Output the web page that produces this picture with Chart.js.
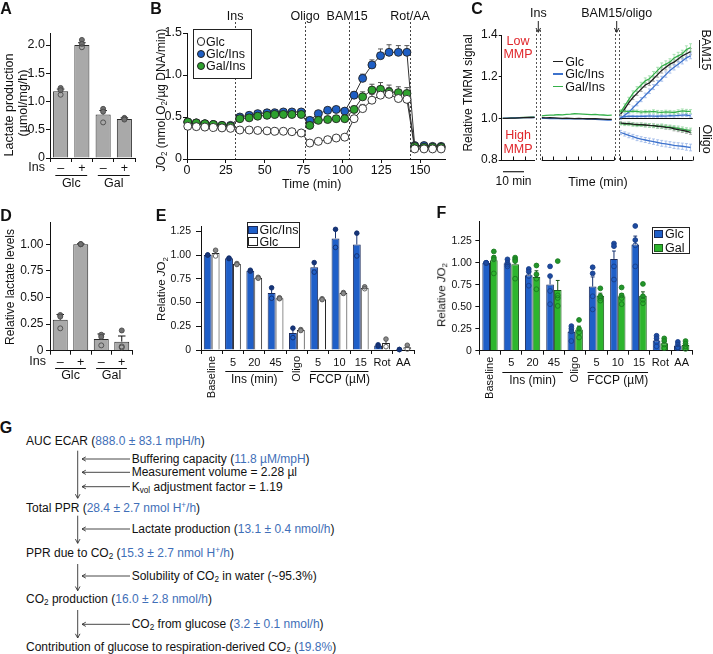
<!DOCTYPE html>
<html lang="en"><head><meta charset="utf-8"><title>Figure</title>
<script src="https://cdn.jsdelivr.net/npm/chart.js@4/dist/chart.umd.min.js"></script>
<style>
html,body{margin:0;padding:0;background:#fff}
body{width:713px;height:654px;position:relative;overflow:hidden;font-family:'Liberation Sans',Arial,Helvetica,sans-serif;color:#111}
canvas{position:absolute}
.t{position:absolute;white-space:nowrap;line-height:1}
.t sub{font-size:0.68em;vertical-align:-0.3em;line-height:0}
.t sup{font-size:0.68em;vertical-align:0.45em;line-height:0}
.b{color:#3f6fb8}
.box{position:absolute;border:1px solid #222;background:#fff;box-sizing:border-box}
.sw{position:absolute;box-sizing:border-box}
</style></head>
<body>
<canvas id="cA" width="145" height="200" style="left:0px;top:0px"></canvas>
<canvas id="cB" width="300" height="200" style="left:150px;top:0px"></canvas>
<canvas id="cC" width="248" height="200" style="left:465px;top:0px"></canvas>
<canvas id="cD" width="145" height="190" style="left:0px;top:200px"></canvas>
<canvas id="cE" width="275" height="200" style="left:150px;top:200px"></canvas>
<canvas id="cF" width="273" height="200" style="left:440px;top:200px"></canvas>
<div id="txt"></div>
<svg id="ov" width="713" height="654" style="position:absolute;left:0;top:0;pointer-events:none">
<g stroke="#333" stroke-width="0.9" fill="none">
 <path d="M77.7 450.7V498 M75.4 494.2L77.7 498.4L80 494.2"/>
 <path d="M82 459H130 M85.8 456.9L82 459L85.8 461.1"/>
 <path d="M82 472.3H130 M85.8 470.2L82 472.3L85.8 474.4"/>
 <path d="M82 486.7H130 M85.8 484.6L82 486.7L85.8 488.8"/>
 <path d="M77.7 515.7V543.3 M75.4 539.1L77.7 543.3L80 539.1"/>
 <path d="M82 529H130 M85.8 526.9L82 529L85.8 531.1"/>
 <path d="M77.7 564V590.7 M75.4 586.5L77.7 590.7L80 586.5"/>
 <path d="M82 576H130 M85.8 573.9L82 576L85.8 578.1"/>
 <path d="M77.7 610V638 M75.4 633.8L77.7 638L80 633.8"/>
 <path d="M82 624.3H130 M85.8 622.2L82 624.3L85.8 626.4"/>
</g>
<g stroke="#222" stroke-width="1" fill="none">
 <path d="M538.3 21V32 M536 28L538.3 32.3L540.6 28"/>
 <path d="M616.7 21V32 M614.4 28L616.7 32.3L619 28"/>
 <path d="M699.5 40V68 M699.5 127V152"/>
 <path d="M503 171.7H524" stroke-width="1.2"/>
</g>
</svg>
<script>
// ================= DATA =================
// Panel A: lactate production (µmol/mg/h)
const aCats = ['–', '+', '–', '+'];
const aLactate = [1.18, 2.00, 0.77, 0.69];
const aErr = [0.04, 0.04, 0.07, 0.02];
const aReps = [[1.24, 1.20, 1.12], [2.09, 2.02, 1.96], [0.87, 0.82, 0.63], [0.71, 0.70, 0.68]];
const aYTicks = {min: 0, max: 2.2, step: 0.5};

// Panel B: JO2 time course
const bTime = [0.5, 6, 11.5, 17, 22.5, 28, 34, 40, 45.5, 51.5, 56.5, 62, 67.5, 73.5, 79, 84.5, 90.5, 96, 101.5,
  107.5, 113, 119, 124.5, 130, 136, 141.5, 146.5, 152.5, 158, 163.5];
const bGlc = [0.39, 0.385, 0.38, 0.375, 0.37, 0.365, 0.345, 0.345, 0.34, 0.335, 0.33, 0.33, 0.325, 0.31,
  0.19, 0.21, 0.23, 0.25, 0.26, 0.48, 0.60, 0.70, 0.76, 0.77, 0.72, 0.71, 0.12, 0.12, 0.12, 0.12];
const bGlcIns = [0.44, 0.43, 0.42, 0.41, 0.40, 0.40, 0.50, 0.52, 0.54, 0.55, 0.55, 0.56, 0.56, 0.56,
  0.46, 0.54, 0.58, 0.59, 0.57, 0.76, 0.96, 1.12, 1.23, 1.27, 1.27, 1.27, 0.16, 0.16, 0.15, 0.15];
const bGalIns = [0.44, 0.43, 0.42, 0.41, 0.40, 0.39, 0.48, 0.49, 0.51, 0.52, 0.53, 0.53, 0.53, 0.53,
  0.40, 0.46, 0.47, 0.48, 0.48, 0.59, 0.74, 0.82, 0.83, 0.80, 0.79, 0.78, 0.15, 0.14, 0.14, 0.14];
const bErrGlc = [0.01, 0.01, 0.01, 0.01, 0.01, 0.01, 0.01, 0.01, 0.01, 0.01, 0.01, 0.01, 0.01, 0.01,
  0.01, 0.01, 0.01, 0.015, 0.015, 0.03, 0.05, 0.07, 0.08, 0.08, 0.08, 0.07, 0.01, 0.01, 0.01, 0.01];
const bErrGlcIns = [0.01, 0.01, 0.01, 0.01, 0.01, 0.01, 0.01, 0.01, 0.015, 0.015, 0.015, 0.015, 0.015, 0.015,
  0.02, 0.02, 0.02, 0.02, 0.02, 0.04, 0.05, 0.06, 0.08, 0.09, 0.08, 0.08, 0.01, 0.01, 0.01, 0.01];
const bErrGalIns = [0.01, 0.01, 0.01, 0.01, 0.01, 0.01, 0.01, 0.01, 0.01, 0.01, 0.01, 0.01, 0.01, 0.01,
  0.015, 0.015, 0.015, 0.015, 0.015, 0.04, 0.06, 0.07, 0.08, 0.08, 0.07, 0.07, 0.01, 0.01, 0.01, 0.01];
const bEvents = [{x: 31, label: 'Ins'}, {x: 76, label: 'Oligo'}, {x: 104.3, label: 'BAM15'}, {x: 143.5, label: 'Rot/AA'}];

// Panel C: TMRM signal (three time segments)
const cT1 = [0.5, 2.5, 4.5, 6.5, 8.5, 10.5, 12.5, 14.5, 16];
const cT2 = [19.5, 21.5, 23.5, 25.5, 27.5, 29.5, 31.5, 33.5, 35.5, 37.5, 39.5, 41.5, 43.5, 45.5, 47.5, 49.5, 51.5, 53.5];
const cT3 = [57.8, 59.8, 61.8, 63.8, 65.8, 67.8, 69.8, 71.8, 73.8, 75.8, 77.8, 79.8, 81.8, 83.8, 85.8, 87.8, 89.8, 91.8];
const cGlc1 = [1.000, 1.000, 1.001, 1.001, 1.002, 1.003, 1.004, 1.004, 1.005];
const cIns1 = [1.000, 1.001, 1.001, 1.002, 1.002, 1.003, 1.003, 1.004, 1.004];
const cGal1 = [1.000, 1.000, 1.002, 1.002, 1.003, 1.004, 1.005, 1.006, 1.006];
const cGlc2 = [1.003, 1.002, 1.003, 1.002, 1.001, 1.000, 1.001, 1.000, 0.999, 1.000, 0.999, 0.998, 0.999, 0.998, 0.997, 0.996, 0.995, 0.995];
const cIns2 = [1.000, 1.000, 0.999, 1.000, 0.999, 0.998, 0.999, 0.998, 0.997, 0.998, 0.997, 0.996, 0.996, 0.995, 0.994, 0.993, 0.992, 0.992];
const cGal2 = [1.012, 1.014, 1.015, 1.016, 1.018, 1.017, 1.019, 1.020, 1.022, 1.021, 1.020, 1.019, 1.018, 1.019, 1.017, 1.016, 1.014, 1.015];
const cBamGal = [1.03, 1.06, 1.09, 1.12, 1.14, 1.16, 1.18, 1.19, 1.21, 1.23, 1.25, 1.26, 1.27, 1.29, 1.30, 1.31, 1.33, 1.34];
const cBamGlc = [1.02, 1.045, 1.075, 1.10, 1.12, 1.14, 1.16, 1.17, 1.19, 1.21, 1.23, 1.245, 1.26, 1.27, 1.285, 1.30, 1.31, 1.32];
const cBamIns = [1.00, 1.015, 1.03, 1.05, 1.07, 1.09, 1.11, 1.13, 1.15, 1.17, 1.19, 1.21, 1.23, 1.245, 1.26, 1.275, 1.29, 1.30];
const cCtrlGal = [1.035, 1.035, 1.032, 1.034, 1.033, 1.030, 1.032, 1.031, 1.033, 1.030, 1.029, 1.031, 1.030, 1.028, 1.032, 1.036, 1.034, 1.033];
const cCtrlIns = [1.005, 1.008, 1.010, 1.010, 1.009, 1.011, 1.010, 1.012, 1.011, 1.010, 1.012, 1.011, 1.013, 1.012, 1.014, 1.015, 1.016, 1.012];
const cOliGlc = [0.978, 0.975, 0.975, 0.972, 0.970, 0.970, 0.968, 0.966, 0.965, 0.962, 0.960, 0.957, 0.955, 0.950, 0.946, 0.942, 0.938, 0.933];
const cOliGal = [0.975, 0.972, 0.973, 0.970, 0.968, 0.969, 0.967, 0.966, 0.964, 0.962, 0.963, 0.960, 0.958, 0.955, 0.952, 0.948, 0.944, 0.942];
const cOliIns = [0.932, 0.925, 0.918, 0.912, 0.905, 0.900, 0.896, 0.892, 0.888, 0.884, 0.880, 0.877, 0.874, 0.870, 0.868, 0.866, 0.863, 0.860];
const eBamGal = [0.008, 0.010, 0.011, 0.012, 0.012, 0.013, 0.014, 0.014, 0.015, 0.015, 0.016, 0.016, 0.016, 0.017, 0.017, 0.017, 0.018, 0.018];
const eBamGlc = [0.006, 0.008, 0.009, 0.010, 0.010, 0.011, 0.011, 0.012, 0.012, 0.013, 0.013, 0.013, 0.014, 0.014, 0.014, 0.015, 0.015, 0.015];
const eBamIns = [0.006, 0.007, 0.008, 0.009, 0.010, 0.010, 0.011, 0.011, 0.012, 0.012, 0.012, 0.013, 0.013, 0.013, 0.014, 0.014, 0.014, 0.014];
const eOliGlc = [0.006, 0.006, 0.007, 0.007, 0.007, 0.008, 0.008, 0.008, 0.008, 0.009, 0.009, 0.009, 0.009, 0.010, 0.010, 0.010, 0.010, 0.010];
const eOliGal = [0.007, 0.007, 0.008, 0.008, 0.008, 0.008, 0.009, 0.009, 0.009, 0.009, 0.010, 0.010, 0.010, 0.010, 0.011, 0.011, 0.011, 0.011];
const eOliIns = [0.010, 0.010, 0.011, 0.011, 0.012, 0.012, 0.012, 0.013, 0.013, 0.013, 0.014, 0.014, 0.014, 0.015, 0.015, 0.015, 0.016, 0.016];
const eCtrlGal = [0.006, 0.006, 0.006, 0.007, 0.007, 0.007, 0.007, 0.007, 0.008, 0.008, 0.008, 0.008, 0.008, 0.008, 0.009, 0.009, 0.009, 0.009];
const eCtrlIns = [0.004, 0.004, 0.005, 0.005, 0.005, 0.005, 0.005, 0.006, 0.006, 0.006, 0.006, 0.006, 0.006, 0.007, 0.007, 0.007, 0.007, 0.007];
const cSegments = [[0, 16.2], [19.45, 54.6], [57.5, 92.9]];
const cTicks = [5.35, 11.3, 19.45, 25.1, 31.3, 37.2, 43.3, 49.4, 54.6, 57.5, 63.5, 69.7, 75.6, 81.8, 87.8, 92.9];
const cEvents = [{x: 16.7}, {x: 18.6}, {x: 55.1}, {x: 57.0}];

// Panel D: relative lactate levels
const dCats = ['–', '+', '–', '+'];
const dRel = [0.29, 1.00, 0.11, 0.085];
const dErr = [0.05, 0.004, 0.047, 0.053];
const dReps = [[0.335, 0.32, 0.21], [1.0, 1.0, 1.0], [0.15, 0.13, 0.05], [0.19, 0.04, 0.03]];

// Panel E: relative JO2, Glc/Ins vs Glc (n=2)
const eCats = ['Baseline', '5', '20', '45', 'Oligo', '5', '10', '15', 'Rot', 'AA'];
const eGlcIns = [1.00, 0.965, 0.835, 0.60, 0.18, 0.87, 1.175, 1.11, 0.048, 0.005];
const eGlc = [1.02, 0.905, 0.76, 0.545, 0.21, 0.535, 0.60, 0.655, 0.075, 0.03];
const eErrGlcIns = [0.005, 0.006, 0.01, 0.055, 0.05, 0.06, 0.09, 0.12, 0.012, 0.002];
const eErrGlc = [0.03, 0.006, 0.006, 0.008, 0.006, 0.006, 0.006, 0.01, 0.045, 0.025];
const eRepsGlcIns = [[1.0, 1.0], [0.968, 0.962], [0.84, 0.83], [0.655, 0.545], [0.23, 0.13], [0.92, 0.82], [1.27, 1.08], [1.23, 0.99], [0.055, 0.041], [0.006, 0.004]];
const eRepsGlc = [[1.05, 0.99], [0.91, 0.90], [0.765, 0.755], [0.55, 0.54], [0.215, 0.205], [0.54, 0.53], [0.605, 0.595], [0.665, 0.645], [0.115, 0.035], [0.05, 0.01]];

// Panel F: relative JO2, Glc vs Gal (n=4)
const fCats = ['Baseline', '5', '20', '45', 'Oligo', '5', '10', '15', 'Rot', 'AA'];
const fGlc = [1.00, 0.995, 0.86, 0.755, 0.215, 0.73, 1.045, 1.21, 0.115, 0.06];
const fGal = [1.03, 0.985, 0.84, 0.69, 0.24, 0.625, 0.62, 0.625, 0.086, 0.065];
const fErrGlc = [0.005, 0.02, 0.03, 0.095, 0.03, 0.11, 0.09, 0.095, 0.025, 0.02];
const fErrGal = [0.05, 0.06, 0.07, 0.11, 0.04, 0.03, 0.03, 0.045, 0.025, 0.02];
const fRepsGlc = [[1.0, 1.0, 1.0, 1.0], [1.04, 1.0, 0.98, 0.96], [0.93, 0.9, 0.85, 0.74], [0.96, 0.85, 0.68, 0.53], [0.28, 0.25, 0.22, 0.11],
  [0.95, 0.88, 0.62, 0.47], [1.22, 1.19, 0.96, 0.81], [1.42, 1.26, 1.2, 0.96], [0.17, 0.14, 0.1, 0.05], [0.1, 0.07, 0.04, 0.03]];
const fRepsGal = [[1.13, 1.06, 1.04, 0.88], [1.06, 1.04, 1.02, 0.82], [0.97, 0.87, 0.82, 0.70], [1.02, 0.63, 0.6, 0.51], [0.35, 0.25, 0.21, 0.15],
  [0.71, 0.62, 0.6, 0.57], [0.72, 0.63, 0.6, 0.53], [0.76, 0.62, 0.58, 0.54], [0.14, 0.11, 0.07, 0.03], [0.11, 0.08, 0.05, 0.02]];
const efGroups = [{from: 1, to: 3, label: 'Ins (min)'}, {from: 5, to: 7, label: 'FCCP (µM)'}];
const efRotated = [0, 4];

// ================= HELPERS =================
const FONT = "'Liberation Sans', Arial, Helvetica, sans-serif";
Chart.defaults.font.family = FONT;
Chart.defaults.color = '#111';
Chart.defaults.animation = false;
Chart.defaults.plugins.legend.display = false;
Chart.defaults.plugins.tooltip.enabled = false;
Chart.defaults.events = [];

function yAxis(o) {
  return {
    type: 'linear', min: o.min, max: o.max,
    afterFit(s) { s.width = o.w; },
    border: {display: true, color: '#111', width: 1},
    grid: {drawOnChartArea: false, drawTicks: true, tickLength: o.tl ?? 4, color: '#111'},
    ticks: {stepSize: o.step, includeBounds: false, padding: o.pad ?? 2, color: '#111', font: {size: o.fs}, callback: o.fmt}
  };
}
function catAxis(o) {
  return {
    type: 'category', offset: true,
    afterFit(s) { s.height = o.h; },
    border: {display: true, color: '#111', width: 1},
    grid: {drawOnChartArea: false, drawTicks: true, tickLength: 4, color: '#111', offset: true},
    ticks: {padding: o.pad, color: '#111', font: {size: o.fs}, maxRotation: 0, minRotation: 0, autoSkip: false,
      callback(v, i) { return (o.hide || []).includes(i) ? '' : this.getLabelForValue(v); }}
  };
}
function barDS(label, data, o) {
  return {label, data, backgroundColor: o.fill, borderColor: o.stroke, borderWidth: 1, borderSkipped: 'bottom',
    barPercentage: o.bp ?? 1, categoryPercentage: o.cp ?? 1,
    errors: o.err, reps: o.reps, errColor: o.errColor, dotFill: o.dotFill, dotStroke: o.dotStroke, dotR: o.dotR};
}
function drawErr(chart, phase) {
  const ctx = chart.ctx, ys = chart.scales.y;
  chart.data.datasets.forEach((ds, i) => {
    const meta = chart.getDatasetMeta(i);
    if (ds.errors && (ds.errPhase || 'after') === phase) {
      ctx.save();
      ctx.strokeStyle = ds.errColor || '#111';
      ctx.lineWidth = ds.errWidth || 1;
      meta.data.forEach((el, j) => {
        const d = ds.data[j];
        const v = (d && typeof d === 'object') ? d.y : d;
        const e = ds.errors[j];
        if (v == null || e == null) return;
        const x = el.x;
        const yT = ys.getPixelForValue(v + e);
        const yB = ds.errSym ? ys.getPixelForValue(v - e) : ys.getPixelForValue(v);
        const cw = ds.capW || (el.width ? el.width * 0.5 : 4);
        ctx.beginPath();
        ctx.moveTo(x, yT); ctx.lineTo(x, yB);
        ctx.moveTo(x - cw / 2, yT); ctx.lineTo(x + cw / 2, yT);
        if (ds.errSym) { ctx.moveTo(x - cw / 2, yB); ctx.lineTo(x + cw / 2, yB); }
        ctx.stroke();
      });
      ctx.restore();
    }
    if (ds.reps && phase === 'after') {
      ctx.save();
      meta.data.forEach((el, j) => {
        const v = ds.data[j];
        (ds.reps[j] || []).forEach(r => {
          const y = ys.getPixelForValue(r);
          ctx.beginPath();
          ctx.arc(el.x, y, ds.dotR || 2.4, 0, Math.PI * 2);
          if (r > v - 0.01) { ctx.fillStyle = ds.dotFill; ctx.fill(); }
          ctx.strokeStyle = ds.dotStroke; ctx.lineWidth = 0.9; ctx.stroke();
        });
      });
      ctx.restore();
    }
  });
}
const errDots = {
  id: 'errDots',
  beforeDatasetsDraw(chart) { drawErr(chart, 'before'); },
  afterDatasetsDraw(chart) { drawErr(chart, 'after'); }
};
const groupPlugin = {
  id: 'groups',
  afterDraw(chart, args, o) {
    if (!o || !o.groups) return;
    const ctx = chart.ctx, xs = chart.scales.x, y0 = chart.chartArea.bottom;
    const step = xs.getPixelForValue(1) - xs.getPixelForValue(0);
    ctx.save();
    ctx.fillStyle = '#111'; ctx.strokeStyle = '#111'; ctx.lineWidth = 1;
    (o.rotated || []).forEach(i => {
      ctx.save();
      ctx.font = o.font;
      ctx.translate(xs.getPixelForValue(i), y0 + o.rotPad);
      ctx.rotate(-Math.PI / 2);
      ctx.textAlign = 'right'; ctx.textBaseline = 'middle';
      ctx.fillText(chart.data.labels[i], 0, 0);
      ctx.restore();
    });
    o.groups.forEach(g => {
      const a = xs.getPixelForValue(g.from) - step * o.ext, b = xs.getPixelForValue(g.to) + step * o.ext;
      const ly = Math.round(y0 + o.lineY) + 0.5;
      ctx.beginPath(); ctx.moveTo(a, ly); ctx.lineTo(b, ly); ctx.stroke();
      ctx.font = o.gFont; ctx.textAlign = 'center'; ctx.textBaseline = 'middle';
      ctx.fillText(g.label, (a + b) / 2, y0 + o.textY);
    });
    if (o.rowLabel) {
      ctx.font = o.font; ctx.textAlign = 'right'; ctx.textBaseline = 'middle';
      ctx.fillText(o.rowLabel, o.rowX, y0 + o.rowY);
    }
    ctx.restore();
  }
};
const vlinePlugin = {
  id: 'vlines',
  beforeDatasetsDraw(chart, args, o) {
    if (!o || !o.lines) return;
    const ctx = chart.ctx, ca = chart.chartArea, xs = chart.scales.x;
    ctx.save();
    ctx.strokeStyle = o.color || '#444'; ctx.lineWidth = 1; ctx.setLineDash(o.dash || [2, 2]);
    o.lines.forEach(l => {
      const x = Math.round(xs.getPixelForValue(l.x)) + 0.5;
      ctx.beginPath(); ctx.moveTo(x, ca.top - (o.ext || 0)); ctx.lineTo(x, ca.bottom); ctx.stroke();
    });
    ctx.setLineDash([]);
    if (o.font) {
      ctx.font = o.font; ctx.fillStyle = '#111'; ctx.textAlign = 'center'; ctx.textBaseline = 'middle';
      o.lines.forEach(l => { if (l.label) ctx.fillText(l.label, xs.getPixelForValue(l.x) + (l.dx || 0), ca.top - o.labelDy); });
    }
    ctx.restore();
  }
};
const segAxis = {
  id: 'segAxis',
  beforeDatasetsDraw(chart, args, o) {
    if (!o || !o.ref) return;
    const ctx = chart.ctx, xs = chart.scales.x, ys = chart.scales.y;
    const y = Math.round(ys.getPixelForValue(o.ref.y)) + 0.5;
    ctx.save(); ctx.strokeStyle = '#111'; ctx.lineWidth = 1.2;
    ctx.beginPath(); ctx.moveTo(xs.getPixelForValue(o.ref.from), y); ctx.lineTo(xs.getPixelForValue(o.ref.to), y); ctx.stroke();
    ctx.restore();
  },
  afterDraw(chart, args, o) {
    if (!o || !o.segments) return;
    const ctx = chart.ctx, ca = chart.chartArea, xs = chart.scales.x;
    const yb = Math.round(ca.bottom) + 0.5;
    ctx.save(); ctx.strokeStyle = '#111'; ctx.lineWidth = 1;
    o.segments.forEach(([a, b]) => {
      ctx.beginPath(); ctx.moveTo(xs.getPixelForValue(a), yb); ctx.lineTo(xs.getPixelForValue(b), yb); ctx.stroke();
    });
    o.ticks.forEach(t => {
      const x = Math.round(xs.getPixelForValue(t)) + 0.5;
      ctx.beginPath(); ctx.moveTo(x, yb); ctx.lineTo(x, yb - o.tickLen); ctx.stroke();
    });
    ctx.restore();
  }
};
const fmt1 = v => v === 0 ? '0' : v.toFixed(1);
const fmt2 = v => v === 0 ? '0' : v.toFixed(2);

// ================= PANEL A =================
new Chart(document.getElementById('cA'), {
  type: 'bar',
  data: {labels: aCats, datasets: [barDS('Lactate production', aLactate, {fill: '#a9a9a9', stroke: '#2a2a2a', bp: 0.71,
    err: aErr, reps: aReps, errColor: '#111', dotFill: '#707070', dotStroke: '#4a4a4a', dotR: 2.5})]},
  options: {
    responsive: false, layout: {autoPadding: false, padding: {top: 33.7, right: 10, left: 0, bottom: 0}},
    scales: {x: catAxis({h: 42, fs: 12.5, pad: -1}),
      y: yAxis({min: aYTicks.min, max: aYTicks.max, step: aYTicks.step, w: 50, fs: 12.5, pad: 1, fmt: fmt1})},
    plugins: {groups: {rowLabel: 'Ins', rowX: 45, rowY: 10, font: '12.5px ' + FONT, gFont: '12.5px ' + FONT,
      lineY: 17, textY: 25.5, ext: 0.25, groups: [{from: 0, to: 1, label: 'Glc'}, {from: 2, to: 3, label: 'Gal'}]}}
  },
  plugins: [errDots, groupPlugin]
});

// ================= PANEL B =================
function lineDS(label, xs, ys, errs, fill, order) {
  return {label, data: xs.map((x, i) => ({x, y: ys[i]})), borderColor: '#333', borderWidth: 1, pointRadius: 4,
    pointBackgroundColor: fill, pointBorderColor: '#222', pointBorderWidth: 0.9, fill: false, tension: 0, clip: false,
    order, errors: errs, errPhase: 'before', errColor: '#555', capW: 5};
}
new Chart(document.getElementById('cB'), {
  type: 'line',
  data: {datasets: [
    lineDS('Glc', bTime, bGlc, bErrGlc, '#ffffff', 1),
    lineDS('Glc/Ins', bTime, bGlcIns, bErrGlcIns, '#1f5fc4', 3),
    lineDS('Gal/Ins', bTime, bGalIns, bErrGalIns, '#2ea12e', 2)
  ]},
  options: {
    responsive: false, layout: {autoPadding: false, padding: {top: 33, right: 5, left: 0, bottom: 0}},
    scales: {
      x: {type: 'linear', min: 0, max: 166, afterFit(s) { s.height = 41; },
        border: {display: true, color: '#111', width: 1},
        grid: {drawOnChartArea: false, drawTicks: true, tickLength: 4, color: '#111'},
        ticks: {stepSize: 25, includeBounds: false, padding: 0, font: {size: 12.5}, color: '#111', maxRotation: 0}},
      y: yAxis({min: 0, max: 1.5, step: 0.5, w: 37, fs: 12.5, pad: 1, fmt: fmt1})
    },
    plugins: {vlines: {lines: bEvents.map(e => ({...e, dx: e.label === 'BAM15' ? -2 : 0})), ext: 11, color: '#444', dash: [2, 2],
      font: '12.5px ' + FONT, labelDy: 16}}
  },
  plugins: [errDots, vlinePlugin]
});

// ================= PANEL C =================
const pts = (ts, vs) => ts.map((t, i) => ({x: t, y: vs[i]}));
const C_BLACK = '#1e1e1e', C_BLUE = '#3d72cc', C_GREEN = '#35b04a';
function cDS(label, data, color, errs, errColor) {
  return {label, data, borderColor: color, borderWidth: 1.3, pointRadius: 0, fill: false, tension: 0, spanGaps: false,
    errors: errs, errSym: true, errPhase: 'before', errColor, errWidth: 0.8, capW: 3};
}
const nullsBase = new Array(cT1.length + 1 + cT2.length + 1).fill(null);
new Chart(document.getElementById('cC'), {
  type: 'line',
  data: {datasets: [
    cDS('Glc', [...pts(cT1, cGlc1), {x: 17.6, y: null}, ...pts(cT2, cGlc2)], C_BLACK, null, '#999'),
    cDS('Glc/Ins', [...pts(cT1, cIns1), {x: 17.6, y: null}, ...pts(cT2, cIns2), {x: 56, y: null}, ...pts(cT3, cCtrlIns)], C_BLUE, [...nullsBase, ...eCtrlIns], '#9cb8e8'),
    cDS('Gal/Ins', [...pts(cT1, cGal1), {x: 17.6, y: null}, ...pts(cT2, cGal2), {x: 56, y: null}, ...pts(cT3, cCtrlGal)], C_GREEN, [...nullsBase, ...eCtrlGal], '#98dba4'),
    cDS('Glc BAM15', pts(cT3, cBamGlc), C_BLACK, eBamGlc, '#9a9a9a'),
    cDS('Glc/Ins BAM15', pts(cT3, cBamIns), C_BLUE, eBamIns, '#9cb8e8'),
    cDS('Gal/Ins BAM15', pts(cT3, cBamGal), C_GREEN, eBamGal, '#98dba4'),
    cDS('Glc oligo', pts(cT3, cOliGlc), C_BLACK, eOliGlc, '#9a9a9a'),
    cDS('Glc/Ins oligo', pts(cT3, cOliIns), C_BLUE, eOliIns, '#9cb8e8'),
    cDS('Gal/Ins oligo', pts(cT3, cOliGal), C_GREEN, eOliGal, '#98dba4')
  ]},
  options: {
    responsive: false, layout: {autoPadding: false, padding: {top: 35, right: 20, left: 0, bottom: 40}},
    scales: {
      x: {type: 'linear', min: 0, max: 93, display: false},
      y: yAxis({min: 0.8, max: 1.4, step: 0.2, w: 36.7, fs: 12, pad: 1, tl: 3, fmt: fmt1})
    },
    plugins: {
      vlines: {lines: cEvents, ext: 5, color: '#555', dash: [2, 2]},
      segAxis: {segments: cSegments, ticks: cTicks, tickLen: 4, ref: {y: 1.0, from: cSegments[2][0], to: cSegments[2][1]}}
    }
  },
  plugins: [errDots, vlinePlugin, segAxis]
});

// ================= PANEL D =================
new Chart(document.getElementById('cD'), {
  type: 'bar',
  data: {labels: dCats, datasets: [barDS('Relative lactate levels', dRel, {fill: '#a9a9a9', stroke: '#2a2a2a', bp: 0.73,
    err: dErr, reps: dReps, errColor: '#111', dotFill: '#707070', dotStroke: '#4a4a4a', dotR: 2.5})]},
  options: {
    responsive: false, layout: {autoPadding: false, padding: {top: 22.9, right: 13, left: 0, bottom: 0}},
    scales: {x: catAxis({h: 39.3, fs: 12.5, pad: 0}),
      y: yAxis({min: 0, max: 1.2, step: 0.25, w: 50, fs: 12, pad: 2.5, fmt: fmt2})},
    plugins: {groups: {rowLabel: 'Ins', rowX: 46, rowY: 11, font: '12.5px ' + FONT, gFont: '12.5px ' + FONT,
      lineY: 17, textY: 24.5, ext: 0.25, groups: [{from: 0, to: 1, label: 'Glc'}, {from: 2, to: 3, label: 'Gal'}]}}
  },
  plugins: [errDots, groupPlugin]
});

// ================= PANEL E =================
new Chart(document.getElementById('cE'), {
  type: 'bar',
  data: {labels: eCats, datasets: [
    barDS('Glc/Ins', eGlcIns, {fill: '#1f5fc8', stroke: '#1a2a5a', cp: 0.74, err: eErrGlcIns, reps: eRepsGlcIns,
      errColor: '#14306e', dotFill: '#16357a', dotStroke: '#132f6c', dotR: 2.3}),
    barDS('Glc', eGlc, {fill: '#ffffff', stroke: '#222', cp: 0.74, err: eErrGlc, reps: eRepsGlc,
      errColor: '#222', dotFill: '#8a8a8a', dotStroke: '#555', dotR: 2.3})
  ]},
  options: {
    responsive: false, layout: {autoPadding: false, padding: {top: 26.5, right: 11, left: 0, bottom: 0}},
    scales: {x: catAxis({h: 50, fs: 11, pad: 2.5, hide: efRotated}),
      y: yAxis({min: 0, max: 1.3, step: 0.25, w: 51, fs: 10.5, pad: 5, tl: 5, fmt: fmt2})},
    plugins: {groups: {rotated: efRotated, rotPad: 6, font: '11px ' + FONT, gFont: '12px ' + FONT,
      lineY: 21, textY: 30, ext: 0.36, groups: efGroups}}
  },
  plugins: [errDots, groupPlugin]
});

// ================= PANEL F =================
new Chart(document.getElementById('cF'), {
  type: 'bar',
  data: {labels: fCats, datasets: [
    barDS('Glc', fGlc, {fill: '#1f5fc8', stroke: '#1a2a5a', cp: 0.72, err: fErrGlc, reps: fRepsGlc,
      errColor: '#14306e', dotFill: '#1d4aa0', dotStroke: '#183e88', dotR: 2.4}),
    barDS('Gal', fGal, {fill: '#2db52d', stroke: '#1d5a1d', cp: 0.72, err: fErrGal, reps: fRepsGal,
      errColor: '#145214', dotFill: '#22962a', dotStroke: '#1a7a1f', dotR: 2.4})
  ]},
  options: {
    responsive: false, layout: {autoPadding: false, padding: {top: 21.6, right: 20.65, left: 0, bottom: 0}},
    scales: {x: catAxis({h: 49.3, fs: 11, pad: 2, hide: efRotated}),
      y: yAxis({min: 0, max: 1.47, step: 0.25, w: 39.35, fs: 10.5, pad: 3.5, tl: 4, fmt: fmt2})},
    plugins: {groups: {rotated: efRotated, rotPad: 6, font: '11px ' + FONT, gFont: '12px ' + FONT,
      lineY: 21, textY: 29.5, ext: 0.42, groups: efGroups}}
  },
  plugins: [errDots, groupPlugin]
});

// ================= TEXT (HTML) =================
const host = document.getElementById('txt');
function T(html, x, y, o = {}) {
  const d = document.createElement('div');
  d.className = 't'; d.innerHTML = html;
  d.style.left = x + 'px'; d.style.top = y + 'px';
  d.style.fontSize = (o.fs || 12) + 'px';
  if (o.color) d.style.color = o.color;
  if (o.bold) d.style.fontWeight = 'bold';
  const ax = o.a === 'c' ? '-50%' : o.a === 'r' ? '-100%' : '0';
  d.style.transform = `translate(${ax},-50%)` + (o.rot ? ` rotate(${o.rot}deg)` : '');
  host.appendChild(d);
  return d;
}
function box(x, y, w, h) {
  const d = document.createElement('div'); d.className = 'box';
  Object.assign(d.style, {left: x + 'px', top: y + 'px', width: w + 'px', height: h + 'px'});
  host.appendChild(d);
}
function sw(x, y, w, h, css) {
  const d = document.createElement('div'); d.className = 'sw';
  Object.assign(d.style, {left: x + 'px', top: y + 'px', width: w + 'px', height: h + 'px'}, css);
  host.appendChild(d);
}
// panel letters
[['A', 6, 8.7], ['B', 156, 8.7], ['C', 477, 9], ['D', 6, 215.7], ['E', 161, 215.7], ['F', 441.5, 213.3], ['G', 6, 428.3]]
  .forEach(([l, x, y]) => T(l, x, y, {a: 'c', fs: 16, bold: true}));

// A
T('Lactate production', 9, 105, {a: 'c', rot: -90, fs: 12.5});
T('(µmol/mg/h)', 22.5, 103, {a: 'c', rot: -90, fs: 12.5});
// B
T('<i>J</i>O<sub>2</sub> (nmol O<sub>2</sub>/µg DNA/min)', 161, 100, {a: 'c', rot: -90, fs: 12});
T('Time (min)', 311.7, 184.3, {a: 'c', fs: 12.5});
box(192.7, 28.5, 59.5, 50);
[['Glc', '#ffffff'], ['Glc/Ins', '#1f5fc4'], ['Gal/Ins', '#2ea12e']].forEach(([l, c], i) => {
  const y = 41.5 + i * 12.2;
  sw(196.5, y - 4.2, 8.4, 8.4, {borderRadius: '50%', background: c, border: '0.9px solid #222'});
  T(l, 206, y, {fs: 12.5});
});
// C
T('Relative TMRM signal', 468, 93, {a: 'c', rot: -90, fs: 12});
T('Ins', 538.3, 13.3, {a: 'c', fs: 12.5});
T('BAM15/oligo', 616.7, 13.3, {a: 'c', fs: 12.5});
T('Low', 518, 40.7, {a: 'c', fs: 12.5, color: '#e0262b'});
T('MMP', 518, 54.3, {a: 'c', fs: 12.5, color: '#e0262b'});
T('High', 518, 135, {a: 'c', fs: 12.5, color: '#e0262b'});
T('MMP', 518, 149, {a: 'c', fs: 12.5, color: '#e0262b'});
[['Glc', C_BLACK], ['Glc/Ins', C_BLUE], ['Gal/Ins', C_GREEN]].forEach(([l, c], i) => {
  const y = 61.7 + i * 12.5;
  sw(552.7, y - 0.8, 10.5, 1.6, {background: c});
  T(l, 565.3, y, {fs: 12.5});
});
T('BAM15', 706, 50, {a: 'c', rot: 90, fs: 12.5});
T('Oligo', 706.5, 139, {a: 'c', rot: 90, fs: 12.5});
T('10 min', 513.5, 181, {a: 'c', fs: 12});
T('Time (min)', 598, 181.7, {a: 'c', fs: 12.5});
// D
T('Relative lactate levels', 10, 287, {a: 'c', rot: -90, fs: 12});
// E
T('Relative <i>J</i>O<sub>2</sub>', 162, 289, {a: 'c', rot: -90, fs: 11.5});
box(246.7, 221.7, 53.3, 26.7);
sw(248, 225.7, 9.5, 8.5, {background: '#1f5fc8', border: '0.8px solid #1a2a5a'});
T('Glc/Ins', 259.5, 230, {fs: 12.5});
sw(248, 237.3, 9.5, 8.5, {background: '#fff', border: '0.9px solid #222'});
T('Glc', 259.5, 241.7, {fs: 12.5});
// F
T('Relative <i>J</i>O<sub>2</sub>', 441.5, 295, {a: 'c', rot: -90, fs: 11.5});
box(651.7, 226.7, 38.3, 27.3);
sw(654, 229.5, 9.3, 8.8, {background: '#1f5fc8', border: '0.8px solid #1a2a5a'});
T('Glc', 665, 234, {fs: 12.5});
sw(654, 243.5, 9.3, 8.8, {background: '#2db52d', border: '0.8px solid #1d5a1d'});
T('Gal', 665, 248.3, {fs: 12.5});
// G
const gMain = [
  ['AUC ECAR (<span class="b">888.0 ± 83.1 mpH/h</span>)', 441],
  ['Total PPR (<span class="b">28.4 ± 2.7 nmol H<sup>+</sup>/h</span>)', 507.7],
  ['PPR due to CO<sub>2</sub> (<span class="b">15.3 ± 2.7 nmol H<sup>+</sup>/h</span>)', 553.3],
  ['CO<sub>2</sub> production (<span class="b">16.0 ± 2.8 nmol/h</span>)', 599.3],
  ['Contribution of glucose to respiration-derived CO₂ (<span class="b">19.8%</span>)', 646.7]
];
const gSide = [
  ['Buffering capacity (<span class="b">11.8 µM/mpH</span>)', 459],
  ['Measurement volume = 2.28 µl', 472.3],
  ['K<sub>vol</sub> adjustment factor = 1.19', 486.7],
  ['Lactate production (<span class="b">13.1 ± 0.4 nmol/h</span>)', 529],
  ['Solubility of CO<sub>2</sub> in water (~95.3%)', 576],
  ['CO<sub>2</sub> from glucose (<span class="b">3.2 ± 0.1 nmol/h</span>)', 624.3]
];
gMain.forEach(([h, y]) => T(h, 26, y, {fs: 12}));
gSide.forEach(([h, y]) => T(h, 131.7, y, {fs: 12}));
</script>
</body></html>
